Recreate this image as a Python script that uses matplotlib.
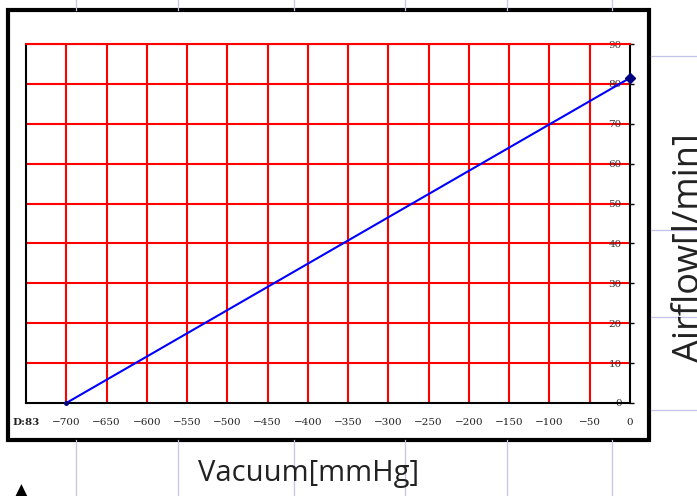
import matplotlib.pyplot as plt
from matplotlib.lines import Line2D
from matplotlib.patches import Rectangle

# curve data
vacuum = [-700, 0]
airflow = [0, 81.5]

x_ticks = [-750, -700, -650, -600, -550, -500, -450, -400, -350, -300,
           -250, -200, -150, -100, -50, 0]
x_labels = ['D:83'] + [str(v).replace('-', '\u2212') for v in x_ticks[1:]]
y_ticks = [0, 10, 20, 30, 40, 50, 60, 70, 80, 90]

W, H = 697, 496
fig = plt.figure(figsize=(W / 100, H / 100), dpi=100)

# faint page grid lines behind the chart
page_col = '#c4c4e6'
for x in [76, 178, 294, 405, 507, 612]:
    fig.add_artist(Line2D([x / W, x / W], [0, 56 / H], color=page_col, lw=0.9))
    fig.add_artist(Line2D([x / W, x / W], [1 - 10 / H, 1], color=page_col, lw=0.9))
for y in [56, 230, 317, 410]:
    fig.add_artist(Line2D([651 / W, 1], [1 - y / H, 1 - y / H], color=page_col, lw=0.9))

# outer black frame
fig.add_artist(Rectangle((8 / W, 1 - 440 / H), 641 / W, 430 / H, fill=False,
                         ec='black', lw=3, transform=fig.transFigure))

ax = fig.add_axes([26 / W, 1 - 403 / H, (630 - 26) / W, (403 - 44) / H])
ax.set_xlim(-750, 0)
ax.set_ylim(0, 90)

for v in x_ticks[1:-1]:
    ax.axvline(v, color='red', lw=1.5, zorder=1)
for v in y_ticks[1:]:
    ax.axhline(v, color='red', lw=1.5, zorder=1)

ax.plot(vacuum, airflow, color='blue', lw=1.5, zorder=3)
ax.plot(vacuum[1], airflow[1], marker='D', color='navy', ms=5.5, zorder=4, clip_on=False)
ax.plot(vacuum[0], airflow[0], marker='o', color='navy', ms=2.5, zorder=4, clip_on=False)

ax.set_xticks(x_ticks)
ax.set_xticklabels(x_labels, fontfamily='DejaVu Serif', fontsize=7.5, color='#222222')
ax.tick_params(axis='x', length=0, pad=11)
ax.get_xticklabels()[0].set_fontweight('bold')

ax.yaxis.tick_right()
ax.set_yticks(y_ticks)
ax.set_yticklabels([str(v) for v in y_ticks], fontfamily='DejaVu Serif',
                   fontsize=7.5, color='#333333')
ax.tick_params(axis='y', direction='out', length=3, pad=-9, width=1)
for lab in ax.get_yticklabels():
    lab.set_horizontalalignment('right')

for s in ['left', 'bottom', 'right']:
    ax.spines[s].set_color('black')
    ax.spines[s].set_linewidth(1.5)
ax.spines['top'].set_color('red')
ax.spines['top'].set_linewidth(1.5)

fig.text(309 / W, 1 - 473 / H, 'Vacuum[mmHg]', fontsize=21, fontfamily='Open Sans',
         color='#222222', ha='center', va='center')
fig.text(672 / W, 1 - 248 / H, 'Airflow[l/min]', fontsize=26, fontfamily='Open Sans',
         color='#222222', ha='left', va='center', rotation=90)

# small black triangle at lower left
fig.text(21 / W, 1 - 491 / H, '\u25b2', fontsize=12, ha='center', va='center')

fig.savefig('out.png', dpi=100)
